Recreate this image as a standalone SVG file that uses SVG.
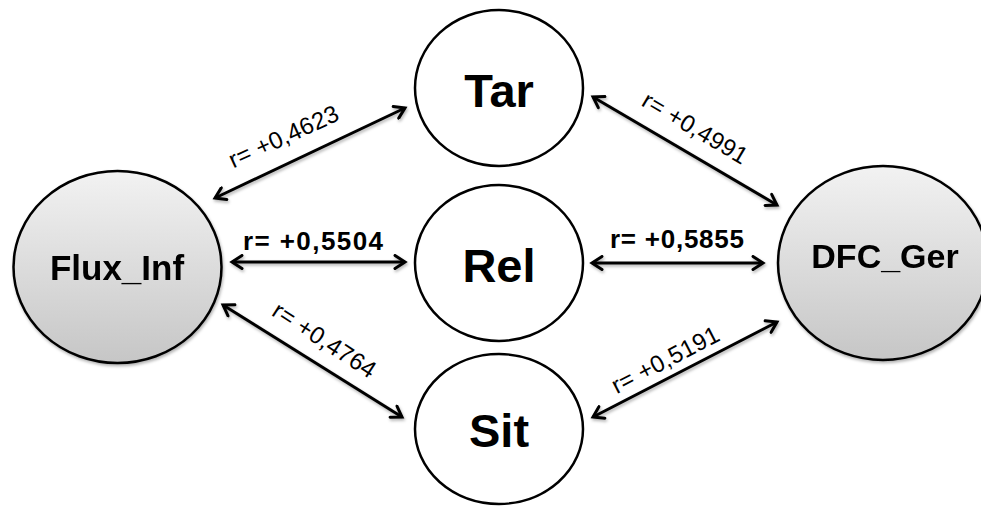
<svg xmlns="http://www.w3.org/2000/svg" width="981" height="506" viewBox="0 0 981 506">
<defs>
<linearGradient id="gray" x1="0" y1="0" x2="0" y2="1">
<stop offset="0" stop-color="#f2f2f2"/>
<stop offset="1" stop-color="#c6c6c6"/>
</linearGradient>
<filter id="sh" x="-10%" y="-10%" width="120%" height="130%">
<feDropShadow dx="1" dy="2" stdDeviation="1.5" flood-color="#000" flood-opacity="0.3"/>
</filter>
<marker id="ah" viewBox="0 0 16 16" refX="13" refY="8" markerWidth="16" markerHeight="16" markerUnits="userSpaceOnUse" orient="auto-start-reverse">
<path d="M3,1.5 L13,8 L3,14.5" fill="none" stroke="#000" stroke-width="3" stroke-linecap="round" stroke-linejoin="miter"/>
</marker>
</defs>
<style>
.node{stroke:#000;stroke-width:2.5}
.lt{fill:#fff}
.dk{fill:url(#gray)}
.nt{font-family:"Liberation Sans",Arial,sans-serif;font-weight:bold;fill:#000;text-anchor:middle}
.c{stroke:#000;stroke-width:3;fill:none;marker-start:url(#ah);marker-end:url(#ah)}
.lb{font-family:"Liberation Sans",Arial,sans-serif;font-size:24px;fill:#000;text-anchor:middle}
.lbb{font-family:"Liberation Sans",Arial,sans-serif;font-size:26px;font-weight:bold;fill:#000;text-anchor:middle}
</style>
<rect width="981" height="506" fill="#fff"/>
<g id="Flux_Inf" filter="url(#sh)">
<ellipse class="node dk" cx="117.5" cy="267" rx="104" ry="96"/>
<text class="nt" x="117" y="280" font-size="35">Flux_Inf</text>
</g>
<g id="DFC_Ger" filter="url(#sh)">
<ellipse class="node dk" cx="883" cy="263" rx="105" ry="97"/>
<text class="nt" x="885" y="268" font-size="34">DFC_Ger</text>
</g>
<g id="Tar">
<ellipse class="node lt" cx="499" cy="88" rx="84" ry="78"/>
<text class="nt" x="499" y="107" font-size="47">Tar</text>
</g>
<g id="Rel">
<ellipse class="node lt" cx="499" cy="263" rx="84" ry="78"/>
<text class="nt" x="499" y="282" font-size="47">Rel</text>
</g>
<g id="Sit">
<ellipse class="node lt" cx="499" cy="429" rx="84" ry="75"/>
<text class="nt" x="499" y="447" font-size="47">Sit</text>
</g>
<g id="connectors" filter="url(#sh)">
<line class="c" x1="215" y1="198" x2="405" y2="108"/>
<line class="c" x1="593" y1="97" x2="777" y2="205"/>
<line class="c" x1="232" y1="262" x2="405" y2="262"/>
<line class="c" x1="592" y1="263" x2="763" y2="263"/>
<line class="c" x1="223" y1="305" x2="402" y2="417"/>
<line class="c" x1="593" y1="417" x2="777" y2="322"/>
</g>
<g id="labels">
<text class="lb" transform="translate(287,144) rotate(-24.5)" textLength="118" lengthAdjust="spacing">r= +0,4623</text>
<text class="lb" transform="translate(691,135) rotate(30.5)" textLength="118" lengthAdjust="spacing">r= +0,4991</text>
<text class="lbb" x="313" y="250" textLength="140" lengthAdjust="spacing">r= +0,5504</text>
<text class="lbb" x="677" y="248" textLength="134" lengthAdjust="spacing">r= +0,5855</text>
<text class="lb" transform="translate(320,347) rotate(33)" textLength="118" lengthAdjust="spacing">r= +0,4764</text>
<text class="lb" transform="translate(669,367) rotate(-27.5)" textLength="118" lengthAdjust="spacing">r= +0,5191</text>
</g>
</svg>
